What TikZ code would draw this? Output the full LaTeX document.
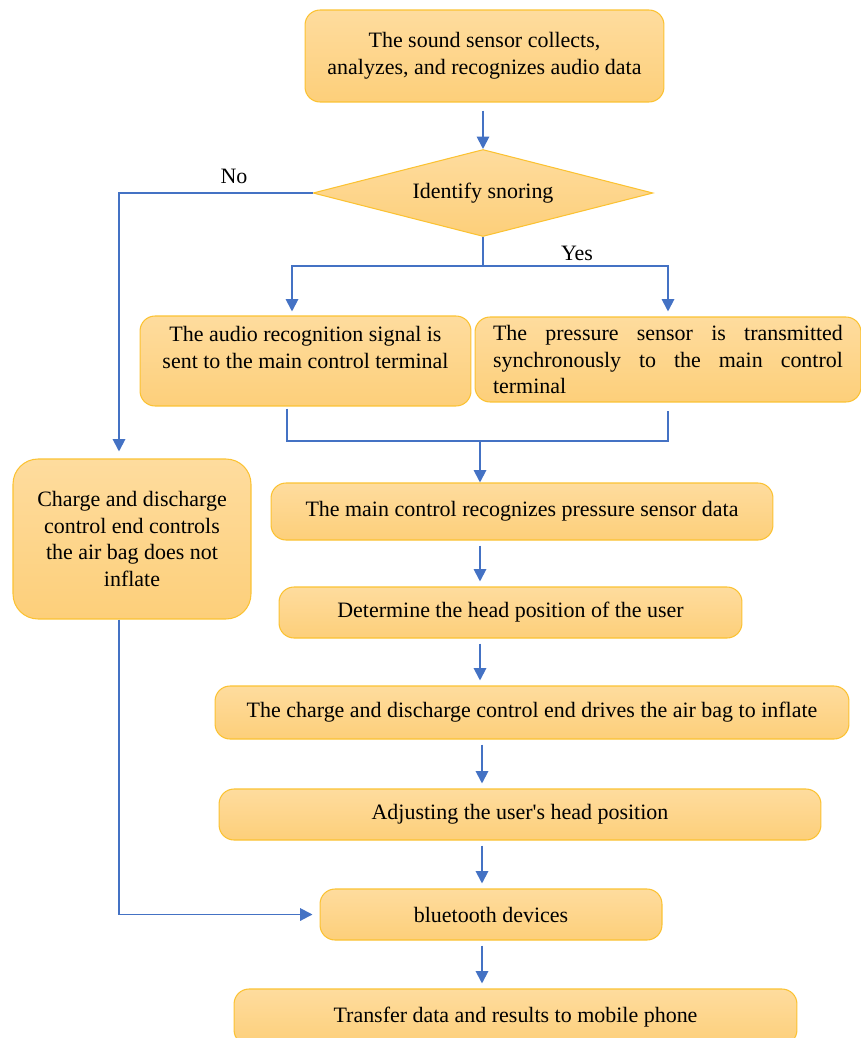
\documentclass[tikz,border=0pt]{standalone}
\usepackage{fontspec}
\setmainfont{Liberation Serif}
\usetikzlibrary{arrows.meta}
\usetikzlibrary{positioning,shapes.geometric}
\definecolor{boxtop}{HTML}{FEDC9E}
\definecolor{boxbot}{HTML}{FDCF7A}
\definecolor{boxline}{HTML}{FBC232}
\definecolor{flowblue}{HTML}{4472C4}
\tikzset{
    flow box/.style={
        draw=boxline,
        line width=0.6pt,
        top color=boxtop,
        bottom color=boxbot,
        rounded corners=0.3cm,
        align=center,
        inner sep=0pt,
        font=\fontsize{12.5}{15.3}\selectfont
    },
    decision/.style={
        flow box,
        diamond,
        rounded corners=0pt,
        aspect=3.9,
        minimum width=6.8cm,
        minimum height=1.74cm
    },
    label text/.style={
        inner sep=0pt,
        font=\fontsize{12.5}{15.3}\selectfont
    },
    flow/.style={
        draw=flowblue,
        line width=1.1pt
    },
    flow arrow/.style={
        flow,
        -{Triangle[length=7pt,width=7pt]}
    }
}
\begin{document}
\begin{tikzpicture}[x=0.02cm,y=-0.02cm]
  \useasboundingbox (0,0) rectangle (861,1038);
  \clip (0,0) rectangle (861,1038);
  \node[flow box, minimum width=7.18cm, minimum height=1.84cm] (sense) at (484.5,56)
    {The sound sensor collects,\\analyzes, and recognizes audio data};
  \node[decision] (snore) at (483,193) {Identify snoring};
  \node[flow box, minimum width=6.62cm, minimum height=1.8cm] (audio) at (305.5,361)
    {The audio recognition signal is\\sent to the main control terminal\\\mbox{}};
  \node[flow box, minimum width=7.72cm, minimum height=1.7cm, text width=7cm, align=justify] (pressure) at (668,359.5)
    {The pressure sensor is transmitted \mbox{synchronously} to the main control terminal};
  \node[flow box, minimum width=4.76cm, minimum height=3.2cm, rounded corners=0.5cm] (nocharge) at (132,539)
    {Charge and discharge\\control end controls\\the air bag does not\\inflate};
  \node[flow box, minimum width=10.04cm, minimum height=1.14cm] (recog) at (522,511.5)
    {The main control recognizes pressure sensor data};
  \node[flow box, minimum width=9.26cm, minimum height=1.02cm] (determ) at (510.5,612.5)
    {Determine the head position of the user};
  \node[flow box, minimum width=12.68cm, minimum height=1.06cm] (inflate) at (532,712.5)
    {The charge and discharge control end drives the air bag to inflate};
  \node[flow box, minimum width=12.04cm, minimum height=1.02cm] (adjust) at (520,814.5)
    {Adjusting the user\textquotesingle s head position};
  \node[flow box, minimum width=6.84cm, minimum height=1.02cm] (bt) at (491,914.5)
    {bluetooth devices};
  \node[flow box, minimum width=11.26cm, minimum height=1.12cm] (phone) at (515.5,1017)
    {Transfer data and results to mobile phone};
  \node[label text] (no) at (234,176) {No};
  \node[label text] (yes) at (577,253) {Yes};
  \coordinate (merge) at (480,441);
  \coordinate (axis) at (482,0);
  % decision branches
  \draw[flow arrow, shorten <=0.16cm] (snore.north |- sense.south) -- (snore.north);
  \draw[flow arrow, shorten >=0.14cm] (snore.west) -| ([xshift=-0.26cm]nocharge.north);
  \draw[flow] (snore.south) -- ++(0,29) coordinate (split);
  \draw[flow arrow, shorten >=0.08cm] (split) -| ([xshift=-0.27cm]audio.north);
  \draw[flow arrow, shorten >=0.1cm] (split) -| (pressure.north);
  \draw[flow, shorten <=0.04cm, shorten >=0.16cm] ([xshift=-0.37cm]audio.south) |- (merge) -| (pressure.south);
  \draw[flow arrow] (merge) -- (merge |- recog.north);
  % main chain
  \foreach \s/\t/\c in {recog/determ/merge,determ/inflate/merge,inflate/adjust/axis,adjust/bt/axis,bt/phone/axis}
    \draw[flow arrow, shorten <=0.1cm, shorten >=0.1cm] (\s.south -| \c) -- (\t.north -| \c);
  \draw[flow arrow, shorten >=0.14cm] ([xshift=-0.26cm]nocharge.south) |- (bt.west);
\end{tikzpicture}
\end{document}
